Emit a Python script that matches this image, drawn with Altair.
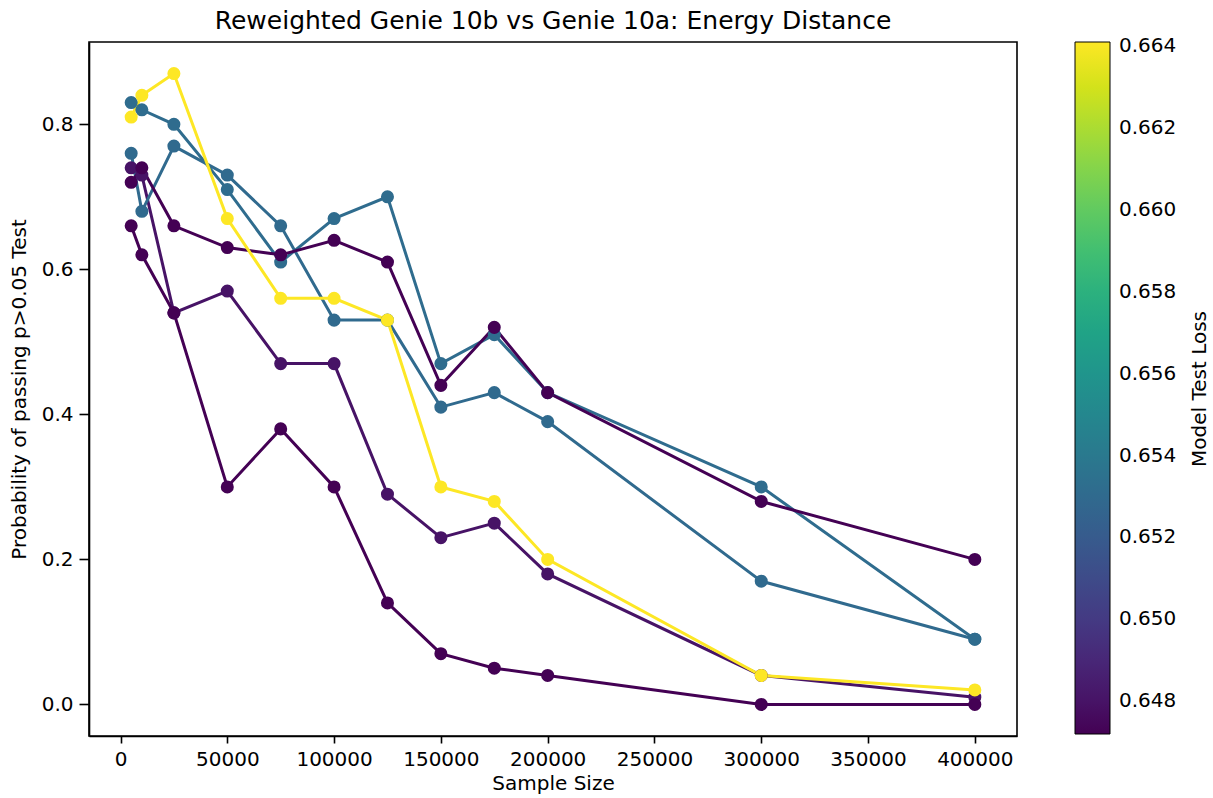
import altair as alt
import pandas as pd

sample_sizes = [5000, 10000, 25000, 50000, 75000, 100000, 125000, 150000, 175000, 200000, 300000, 400000]

series_names = ["E", "B", "A", "C", "D", "Y"]
series_loss = [0.6480, 0.6530, 0.6531, 0.6472, 0.6472, 0.6641]
series_values = [
    [0.74, 0.73, 0.54, 0.57, 0.47, 0.47, 0.29, 0.23, 0.25, 0.18, 0.04, 0.01],
    [0.76, 0.68, 0.77, 0.73, 0.66, 0.53, 0.53, 0.41, 0.43, 0.39, 0.17, 0.09],
    [0.83, 0.82, 0.80, 0.71, 0.61, 0.67, 0.70, 0.47, 0.51, 0.43, 0.30, 0.09],
    [0.72, 0.74, 0.66, 0.63, 0.62, 0.64, 0.61, 0.44, 0.52, 0.43, 0.28, 0.20],
    [0.66, 0.62, 0.54, 0.30, 0.38, 0.30, 0.14, 0.07, 0.05, 0.04, 0.00, 0.00],
    [0.81, 0.84, 0.87, 0.67, 0.56, 0.56, 0.53, 0.30, 0.28, 0.20, 0.04, 0.02],
]

colorbar_ticks = [0.648, 0.650, 0.652, 0.654, 0.656, 0.658, 0.660, 0.662, 0.664]
x_ticks = [0, 50000, 100000, 150000, 200000, 250000, 300000, 350000, 400000]
y_ticks = [0.0, 0.2, 0.4, 0.6, 0.8]
colorbar_title = ["Model Test Loss"]

rows = []
for order, (name, loss, vals) in enumerate(zip(series_names, series_loss, series_values)):
    for i, (s, v) in enumerate(zip(sample_sizes, vals)):
        rows.append({"series": name, "order": order, "idx": order * 100 + i,
                     "Sample Size": s, "prob": v, "loss": loss})
df = pd.DataFrame(rows)

FONT = "DejaVu Sans"
cscale = alt.Scale(scheme="viridis", domain=[0.6472, 0.6641], nice=False, zero=False)

x_enc = alt.X("Sample Size:Q",
              scale=alt.Scale(domain=[-14750, 419750], nice=False, zero=False),
              axis=alt.Axis(values=x_ticks, format="d", title="Sample Size",
                            tickSize=7, labelPadding=6, titlePadding=4))
y_enc = alt.Y("prob:Q",
              scale=alt.Scale(domain=[-0.0435, 0.9135], nice=False, zero=False),
              axis=alt.Axis(values=y_ticks, format=".1f",
                            title="Probability of passing p>0.05 Test",
                            tickSize=10, labelPadding=6, titlePadding=12))
color_enc = alt.Color("loss:Q", scale=cscale,
                      legend=alt.Legend(type="gradient", title=None, values=colorbar_ticks,
                                        format=".3f", gradientLength=692,
                                        gradientThickness=35, orient="right",
                                        offset=58, direction="vertical",
                                        gradientStrokeColor="black", gradientStrokeWidth=1,
                                        labelFontSize=20, labelFont=FONT,
                                        labelColor="black", labelOffset=9))

base = alt.Chart(df)
lines = base.mark_line(strokeWidth=3).encode(
    x=x_enc, y=y_enc, color=color_enc, detail="series:N", order="idx:Q")
points = base.mark_circle(size=170, opacity=1).encode(
    x=x_enc, y=y_enc, color=alt.Color("loss:Q", scale=cscale, legend=None),
    order="order:Q")
cb_title = alt.Chart(pd.DataFrame({"t": colorbar_title})).mark_text(
    angle=270, font=FONT, fontSize=20, color="black", align="center", baseline="middle"
).encode(x=alt.value(1111), y=alt.value(347), text="t:N")

chart = alt.layer(lines, points, cb_title).resolve_legend(color="independent").properties(
    width=928, height=694,
    title=alt.Title("Reweighted Genie 10b vs Genie 10a: Energy Distance",
                    fontSize=25, font=FONT, fontWeight="normal", color="black", offset=8),
    autosize=alt.AutoSizeParams(type="none"),
    padding={"left": 89, "top": 42, "right": 196, "bottom": 62},
).configure_view(
    stroke="black", strokeWidth=1.6
).configure_axis(
    labelFont=FONT, titleFont=FONT, labelFontSize=20, titleFontSize=20,
    labelColor="black", titleColor="black", titleFontWeight="normal",
    grid=False, domainColor="black", tickColor="black",
    domainWidth=1.6, tickWidth=1.6
)

chart.save("out.html", embed_options={"renderer": "svg", "actions": False})
